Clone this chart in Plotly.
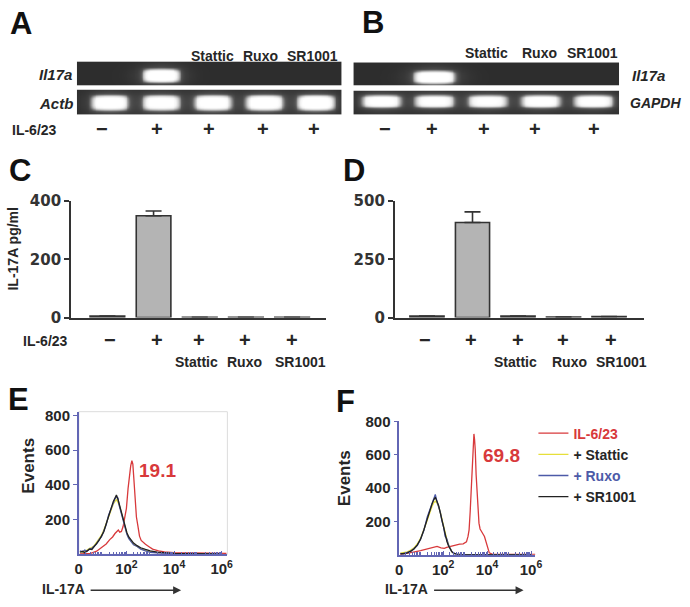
import numpy as np
import plotly.graph_objects as go

W, H = 690, 607

def px(x):
    return x / W

def py(y):
    return 1 - y / H

# ---------------- data ----------------
lanes = [1, 2, 3, 4, 5]
treat_labels = ["Stattic", "Ruxo", "SR1001"]
il6_signs = ["−", "+", "+", "+", "+"]

# gel band intensities (relative)
gelA_il17a = [0.0, 1.0, 0.0, 0.0, 0.0]
gelA_actb = [0.95, 0.92, 0.95, 0.97, 1.0]
gelB_il17a = [0.0, 1.0, 0.0, 0.0, 0.0]
gelB_gapdh = [0.9, 0.88, 0.86, 0.9, 0.9]

# ELISA IL-17A pg/ml
elisaC = [5, 350, 1, 1, 1]
elisaC_err = [0, 16, 0, 0, 0]
elisaD = [6, 408, 6, 2, 4]
elisaD_err = [0, 46, 0, 0, 0]

# flow histograms (x = log10 IL-17A, y = events)
E_x = [0.05, 0.15, 0.25, 0.35, 0.45, 0.55, 0.65, 0.75, 0.85, 0.95, 1.05, 1.15, 1.25, 1.35, 1.45,
       1.52, 1.58, 1.64, 1.70, 1.78, 1.86, 1.94, 2.02, 2.10, 2.20, 2.30, 2.45, 2.60, 2.80, 3.00,
       3.30, 3.60, 4.0, 4.5, 5.0, 5.5, 6.0]
E_sr = [12, 18, 10, 22, 30, 28, 45, 62, 80, 105, 130, 175, 220, 265, 305, 325, 342, 320, 290, 250,
        205, 160, 125, 100, 82, 65, 50, 38, 28, 20, 13, 8, 5, 4, 3, 3, 2]
E_stat = [15, 10, 20, 25, 35, 40, 50, 70, 90, 110, 140, 180, 215, 255, 290, 305, 315, 300, 285, 245,
          200, 155, 120, 95, 75, 58, 45, 33, 22, 15, 10, 6, 5, 4, 3, 3, 2]
E_rux = [20, 14, 25, 18, 32, 35, 48, 60, 85, 100, 135, 170, 225, 260, 300, 320, 330, 325, 280, 240,
         190, 150, 115, 90, 70, 55, 45, 30, 20, 12, 8, 5, 4, 3, 3, 2, 3]
E_red_x = [0.05, 0.30, 0.50, 0.75, 1.00, 1.15, 1.30, 1.42, 1.52, 1.60, 1.66, 1.72, 1.79, 1.86, 1.93,
           2.00, 2.07, 2.13, 2.18, 2.23, 2.27, 2.31, 2.36, 2.42, 2.48, 2.55, 2.62, 2.70, 2.80, 2.95,
           3.10, 3.35, 3.60, 4.00, 4.40, 4.80, 5.20, 5.60, 6.00, 6.20]
E_red = [2, 3, 6, 18, 45, 60, 85, 100, 120, 135, 140, 128, 132, 160, 205, 265, 380, 470, 510, 540,
         520, 440, 320, 215, 165, 105, 80, 68, 58, 44, 30, 20, 14, 10, 9, 8, 7, 6, 6, 5]

F_x = [0.05, 0.20, 0.37, 0.52, 0.67, 0.82, 0.97, 1.12, 1.27, 1.38, 1.49, 1.57, 1.64, 1.72, 1.79, 1.87,
       1.94, 2.02, 2.09, 2.17, 2.24, 2.32, 2.39, 2.47, 2.54, 2.65, 2.76, 3.0, 3.5, 4.0, 5.0, 6.0]
F_sr = [5, 8, 12, 22, 35, 60, 93, 150, 218, 265, 305, 330, 345, 320, 296, 250, 209, 160, 112, 80, 54,
        35, 19, 10, 6, 3, 2, 1, 1, 1, 1, 1]
F_rux = [8, 5, 14, 20, 38, 55, 95, 145, 225, 270, 310, 340, 362, 318, 290, 255, 205, 165, 110, 95, 60,
         40, 20, 12, 5, 3, 2, 1, 1, 1, 1, 1]
F_stat = [10, 12, 18, 28, 42, 65, 100, 150, 210, 255, 290, 312, 322, 310, 290, 255, 215, 170, 125, 90,
          62, 38, 20, 10, 5, 3, 2, 1, 1, 1, 1, 1]
F_red_x = [0.05, 0.37, 0.70, 0.97, 1.30, 1.55, 1.72, 1.90, 2.05, 2.16, 2.30, 2.46, 2.60, 2.75, 2.91,
           3.00, 3.06, 3.13, 3.18, 3.23, 3.28, 3.32, 3.36, 3.40, 3.43, 3.46, 3.50, 3.54, 3.58, 3.63,
           3.68, 3.73, 3.80, 3.88, 3.95, 3.99, 4.05, 4.10, 4.25, 4.6, 5.0, 5.5, 6.0, 6.2]
F_red = [2, 12, 18, 25, 35, 45, 50, 42, 39, 45, 50, 55, 60, 64, 66, 72, 78, 110, 150, 260, 400, 520,
         620, 725, 690, 630, 480, 360, 260, 190, 155, 140, 128, 110, 80, 62, 30, 12, 3, 2, 2, 2, 2, 2]

E_pct = "19.1"
F_pct = "69.8"
flow_tickvals = [0, 2, 4, 6]
flow_ticktext = ["0", "10<sup>2</sup>", "10<sup>4</sup>", "10<sup>6</sup>"]

# ---------------- styles ----------------
RED = "#d8393b"
YEL = "#e6df3a"
BLU = "#4d5aa8"
BLK = "#222222"
AXB = "#6266b4"
TXT = "#262626"
FONT = "Liberation Sans"

fig = go.Figure()
layout = dict(width=W, height=H, margin=dict(l=0, r=0, t=0, b=0),
              paper_bgcolor="white", plot_bgcolor="rgba(0,0,0,0)", showlegend=True)
annotations = []
shapes = []


def ann(text, x, y, size=14, color=TXT, bold=True, italic=False, xanchor="center",
        yanchor="middle", family=FONT, angle=0):
    annotations.append(dict(text=text, x=px(x), y=py(y), xref="paper", yref="paper",
                            showarrow=False, xanchor=xanchor, yanchor=yanchor, textangle=angle,
                            font=dict(family=family, size=size, color=color,
                                      weight="bold" if bold else "normal",
                                      style="italic" if italic else "normal")))


def hidden_axis(rng, dom):
    return dict(range=rng, domain=dom, visible=False, fixedrange=True)


# ---------------- gels ----------------
gel_scale = [[0, "#2d2d2d"], [0.3, "#555555"], [0.65, "#c8c8c8"], [0.85, "#f4f4f4"], [1, "#ffffff"]]


def gel_z(xg, yg, intens, yc, hw, hh):
    X, Y = np.meshgrid(xg, yg)
    z = np.zeros_like(X)
    for lane, I in zip(lanes, intens):
        core = np.exp(-(((X - lane) / hw) ** 6)) * np.exp(-(((Y - yc) / hh) ** 4))
        glow = np.exp(-(((X - lane) / (hw * 1.25)) ** 2)) * np.exp(-(((Y - yc) / (hh * 1.7)) ** 2))
        z += I * (0.85 * core + 0.35 * glow)
    return np.clip(z, 0, 1)


gels = [
    # intensities, x range, px x, px y, band y-centre, half width, half height
    (gelA_il17a, [0.37, 5.5], (74, 343), (54, 79), 0.42, 0.36, 0.27),
    (gelA_actb, [0.37, 5.5], (74, 343), (83, 109), 0.48, 0.36, 0.30),
    (gelB_il17a, [0.48, 5.48], (355, 625), (55, 79), 0.37, 0.39, 0.27),
    (gelB_gapdh, [0.48, 5.48], (355, 625), (84, 109), 0.56, 0.37, 0.26),
]
ai = 1
for intens, xr, (x0, x1), (y0, y1), yc, hw, hh in gels:
    xg = np.linspace(xr[0], xr[1], 300)
    yg = np.linspace(0, 1, 40)
    z = gel_z(xg, yg, intens, yc, hw, hh)
    fig.add_trace(go.Heatmap(x=xg, y=yg, z=z, colorscale=gel_scale, zmin=0, zmax=1,
                             showscale=False, zsmooth="best", hoverinfo="skip",
                             xaxis=f"x{ai}", yaxis=f"y{ai}", showlegend=False))
    layout[f"xaxis{ai}"] = hidden_axis(xr, [px(x0), px(x1)])
    layout[f"yaxis{ai}"] = hidden_axis([0, 1], [py(y1), py(y0)])
    layout[f"yaxis{ai}"]["anchor"] = f"x{ai}"
    layout[f"xaxis{ai}"]["anchor"] = f"y{ai}"
    ai += 1

# ---------------- bar charts ----------------
bar_panels = [
    (elisaC, elisaC_err, [0.21, 5.73], (68, 327), [0, 400], [0, 200, 400]),
    (elisaD, elisaD_err, [0.29, 5.76], (397, 650), [0, 500], [0, 250, 500]),
]
for vals, errs, xr, (x0, x1), yr, tv in bar_panels:
    fig.add_trace(go.Bar(x=lanes, y=vals, width=0.75,
                         marker=dict(color="#b4b4b4", line=dict(color="#333333", width=1.6)),
                         error_y=dict(type="data", array=errs, arrayminus=[0] * 5, symmetric=False,
                                      color="#333333", thickness=1.6, width=8),
                         xaxis=f"x{ai}", yaxis=f"y{ai}", showlegend=False, hoverinfo="skip"))
    layout[f"xaxis{ai}"] = dict(range=xr, domain=[px(x0), px(x1)], anchor=f"y{ai}",
                                showline=True, linecolor="#333333", linewidth=1.6,
                                showticklabels=False, ticks="", showgrid=False, zeroline=False)
    layout[f"yaxis{ai}"] = dict(range=yr, domain=[py(318), py(198)], anchor=f"x{ai}",
                                showline=True, linecolor="#333333", linewidth=1.6,
                                ticks="outside", ticklen=5, tickwidth=1.6, tickcolor="#333333",
                                tickvals=tv, showgrid=False, zeroline=False,
                                tickfont=dict(family="DejaVu Sans", size=15, color="#333333",
                                              weight="bold"))
    ai += 1

# ---------------- flow histograms ----------------
minor_vals = []
for d in range(0, 7):
    for k in range(2, 10):
        v = d + np.log10(k)
        if v < 6.2:
            minor_vals.append(float(v))

flow_panels = [
    ("E", E_red_x, E_red, E_x, E_stat, E_rux, E_sr, [0, 6.24], (76, 227), (415, 562), [0, 822], False),
    ("F", F_red_x, F_red, F_x, F_stat, F_rux, F_sr, [0, 6.2], (401.7, 540), (425, 562.5), [0, 800], True),
]
for name, rx, ry, gx, ys, yr_, yk, xr, (x0, x1), (y0, y1), yrng, leg in flow_panels:
    series = [
        ('<span style="color:%s">IL-6/23</span>' % RED, rx, ry, RED),
        ("+ Stattic", gx, ys, YEL),
        ('<span style="color:%s">+ Ruxo</span>' % BLU, gx, yr_, BLU),
        ("+ SR1001", gx, yk, BLK),
    ]
    for nm, xs, yv, col in series:
        fig.add_trace(go.Scatter(x=xs, y=yv, mode="lines", name=nm,
                                 line=dict(color=col, width=1.3), showlegend=leg,
                                 xaxis=f"x{ai}", yaxis=f"y{ai}", hoverinfo="skip"))
    layout[f"xaxis{ai}"] = dict(range=xr, domain=[px(x0), px(x1)], anchor=f"y{ai}",
                                showline=True, linecolor=AXB, linewidth=1.5,
                                tickvals=flow_tickvals, ticktext=flow_ticktext,
                                ticks="inside", ticklen=4, tickcolor=AXB, tickwidth=1,
                                minor=dict(tickmode="array", tickvals=minor_vals, ticks="inside",
                                           ticklen=3, tickcolor=AXB, tickwidth=1),
                                showgrid=False, zeroline=False,
                                tickfont=dict(family=FONT, size=15, color=TXT, weight="bold"))
    layout[f"yaxis{ai}"] = dict(range=yrng, domain=[py(y1), py(y0)], anchor=f"x{ai}",
                                showline=True, linecolor=AXB, linewidth=1.5,
                                tickvals=[200, 400, 600, 800], ticks="outside", ticklen=4,
                                tickcolor=AXB, tickwidth=1, showgrid=False, zeroline=False,
                                tickfont=dict(family=FONT, size=15, color=TXT, weight="bold"))
    if name == "E":
        shapes.append(dict(type="rect", xref=f"x{ai} domain", yref=f"y{ai} domain",
                           x0=0, x1=1, y0=0, y1=1, line=dict(color="#dcdcdc", width=1),
                           layer="below"))
    ai += 1

layout["legend"] = dict(x=px(538), y=py(421), xanchor="left", yanchor="top",
                        bgcolor="rgba(0,0,0,0)", tracegroupgap=0, itemwidth=30,
                        font=dict(family=FONT, size=14, color=TXT, weight="bold"))

# ---------------- text ----------------
# panel letters
for L, x, y in [("A", 4, 15), ("B", 362, 14), ("C", 3, 166), ("D", 342, 166), ("E", 2, 402), ("F", 335, 404)]:
    ann(L, x, y, size=31, color="#111111", xanchor="left")

# gel labels
for t, x in zip(treat_labels, [212, 261, 314]):
    ann(t, x, 48, size=14)
for t, x in zip(treat_labels, [490, 544, 598]):
    ann(t, x, 45, size=14)
ann("Il17a", 71, 67, size=15, italic=True, xanchor="right")
ann("Actb", 72, 97, size=15, italic=True, xanchor="right")
ann("Il17a", 636, 69, size=15, italic=True, xanchor="left")
ann("GAPDH", 634, 97, size=14, italic=True, xanchor="left")
ann("IL-6/23", 6, 125, size=14, xanchor="left")
for s, x in zip(il6_signs, [100, 155, 208, 263, 315]):
    ann(s, x, 124, size=20)
for s, x in zip(il6_signs, [387, 435, 488, 540, 600]):
    ann(s, x, 124, size=20)

# bar chart labels
ann("IL-17A pg/ml", 9, 247, size=14, angle=-90)
ann("IL-6/23", 17, 342, size=14, xanchor="left")
for s, x in zip(il6_signs, [108, 155, 198, 245, 293]):
    ann(s, x, 341, size=20)
for s, x in zip(il6_signs, [428, 475, 522, 568, 617]):
    ann(s, x, 341, size=20)
for t, x in zip(treat_labels, [196, 244, 301]):
    ann(t, x, 364, size=14)
for t, x in zip(treat_labels, [520, 575, 627]):
    ann(t, x, 364, size=14)

# flow labels
ann("Events", 24, 471, size=17, angle=-90)
ann("Events", 346, 483, size=17, angle=-90)
ann(E_pct, 156, 476, size=19, color=RED)
ann(F_pct, 506, 460, size=19, color=RED)
ann("IL-17A", 37, 598, size=14, xanchor="left")
ann("IL-17A", 385, 598, size=14, xanchor="left")
for x0, x1 in [(88, 180), (437, 528)]:
    annotations.append(dict(x=px(x1), y=py(599), xref="paper", yref="paper", ax=-(x1 - x0), ay=0,
                            showarrow=True, arrowhead=2, arrowsize=1, arrowwidth=1.6,
                            arrowcolor="#333333", text=""))

layout["annotations"] = annotations
layout["shapes"] = shapes
fig.update_layout(**layout)
fig.write_html("out.html", config={"displayModeBar": False},
               post_script="document.body.style.margin='0px';document.body.style.overflow='hidden';")
